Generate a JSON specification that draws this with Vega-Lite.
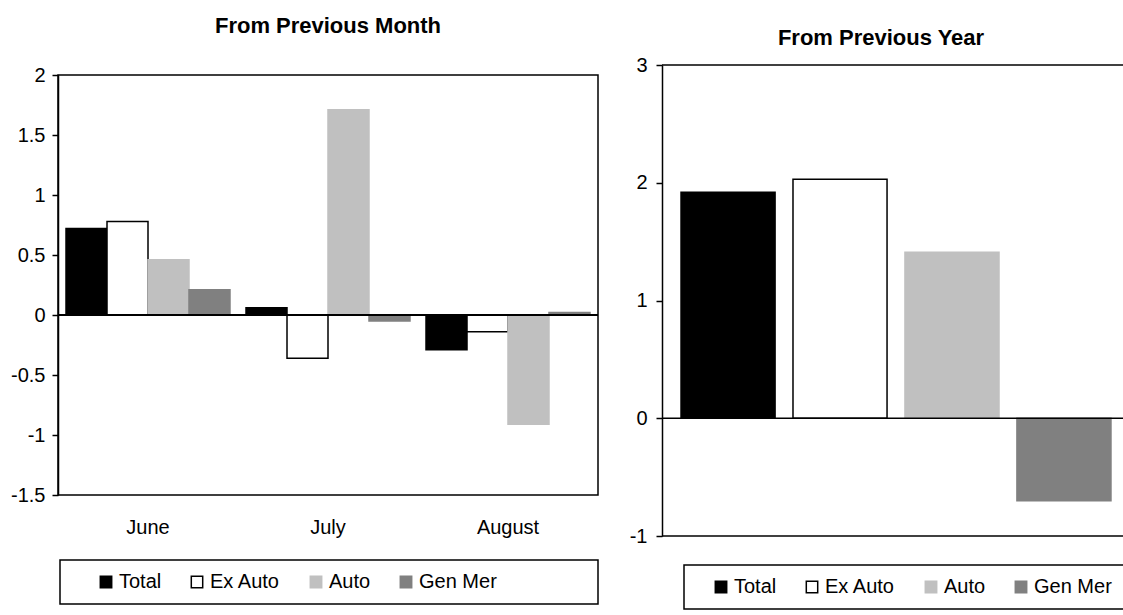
{
  "$schema": "https://vega.github.io/schema/vega-lite/v6.json",
  "background": "white",
  "padding": {"left": 9, "top": 14, "right": 0, "bottom": 0},
  "spacing": 29,
  "datasets": {
    "monthly": [
      {"month": "June", "series": "Total", "value": 0.72},
      {"month": "June", "series": "Ex Auto", "value": 0.78},
      {"month": "June", "series": "Auto", "value": 0.46},
      {"month": "June", "series": "Gen Mer", "value": 0.21},
      {"month": "July", "series": "Total", "value": 0.06},
      {"month": "July", "series": "Ex Auto", "value": -0.36},
      {"month": "July", "series": "Auto", "value": 1.71},
      {"month": "July", "series": "Gen Mer", "value": -0.05},
      {"month": "August", "series": "Total", "value": -0.29},
      {"month": "August", "series": "Ex Auto", "value": -0.14},
      {"month": "August", "series": "Auto", "value": -0.91},
      {"month": "August", "series": "Gen Mer", "value": 0.02}
    ],
    "yearly": [
      {"series": "Total", "value": 1.92},
      {"series": "Ex Auto", "value": 2.03},
      {"series": "Auto", "value": 1.41},
      {"series": "Gen Mer", "value": -0.70}
    ],
    "yearlyLines": [
      {"v": 3},
      {"v": 0},
      {"v": -1}
    ]
  },
  "hconcat": [
    {
      "width": 540,
      "height": 420,
      "title": {"text": "From Previous Month", "offset": 27},
      "data": {"name": "monthly"},
      "layer": [
        {
          "mark": {"type": "bar", "strokeWidth": 1.5},
          "encoding": {
            "x": {"field": "month", "type": "nominal", "sort": ["June", "July", "August"],
                  "scale": {"paddingInner": 0.089, "paddingOuter": 0.0445},
                  "axis": {"title": null, "ticks": false, "domain": false, "labelPadding": 22, "labelAngle": 0}},
            "xOffset": {"field": "series", "type": "nominal", "sort": ["Total", "Ex Auto", "Auto", "Gen Mer"],
                        "scale": {"paddingInner": 0, "paddingOuter": 0}},
            "y": {"field": "value", "type": "quantitative", "stack": null,
                  "scale": {"domain": [-1.5, 2], "nice": false, "zero": false},
                  "axis": {"title": null, "values": [-1.5, -1, -0.5, 0, 0.5, 1, 1.5, 2], "labelExpr": "'' + datum.value",
                           "tickSize": 6, "labelPadding": 7}},
            "color": {"field": "series", "type": "nominal", "sort": ["Total", "Ex Auto", "Auto", "Gen Mer"],
                      "scale": {"domain": ["Total", "Ex Auto", "Auto", "Gen Mer"], "range": ["#000000", "#ffffff", "#c0c0c0", "#808080"]},
                      "legend": {"title": null, "orient": "none", "legendX": 2, "legendY": 485, "symbolOffset": 24, "columnPadding": 1,
                                 "labelExpr": "datum.label == 'Gen Mer' ? 'Gen Mer\u00a0\u00a0\u00a0\u00a0\u00a0\u00a0\u00a0\u00a0\u00a0\u00a0\u00a0\u00a0\u00a0\u00a0\u00a0\u00a0\u200b' : datum.label"}},
            "stroke": {"field": "series", "type": "nominal", "sort": ["Total", "Ex Auto", "Auto", "Gen Mer"],
                      "scale": {"domain": ["Total", "Ex Auto", "Auto", "Gen Mer"], "range": ["#000000", "#000000", "#c0c0c0", "#808080"]},
                      "legend": {"title": null, "orient": "none", "legendX": 2, "legendY": 485, "symbolOffset": 24, "columnPadding": 1,
                                 "labelExpr": "datum.label == 'Gen Mer' ? 'Gen Mer\u00a0\u00a0\u00a0\u00a0\u00a0\u00a0\u00a0\u00a0\u00a0\u00a0\u00a0\u00a0\u00a0\u00a0\u00a0\u00a0\u200b' : datum.label"}}
          }
        },
        {
          "mark": {"type": "rule", "color": "black", "strokeWidth": 1.5},
          "encoding": {"y": {"datum": 0}}
        }
      ]
    },
    {
      "width": 468,
      "height": 461,
      "view": {"stroke": null},
      "title": {"text": "From Previous Year", "offset": 5, "dx": -15},
      "layer": [
        {
          "data": {"name": "yearly"},
          "mark": {"type": "bar", "strokeWidth": 1.5},
          "encoding": {
            "x": {"field": "series", "type": "nominal", "sort": ["Total", "Ex Auto", "Auto", "Gen Mer"],
                  "scale": {"paddingInner": 0.16, "paddingOuter": 0.17}, "axis": null},
            "y": {"field": "value", "type": "quantitative", "stack": null,
                  "scale": {"domain": [-1, 3], "nice": false, "zero": false, "range": [461, -10]},
                  "axis": {"title": null, "values": [-1, 0, 1, 2, 3], "labelExpr": "'' + datum.value",
                           "tickSize": 6, "labelPadding": 9}},
            "color": {"field": "series", "type": "nominal", "sort": ["Total", "Ex Auto", "Auto", "Gen Mer"],
                      "scale": {"domain": ["Total", "Ex Auto", "Auto", "Gen Mer"], "range": ["#000000", "#ffffff", "#c0c0c0", "#808080"]},
                      "legend": {"title": null, "orient": "none", "legendX": 22, "legendY": 490, "symbolOffset": 15, "columnPadding": 10,
                                 "labelExpr": "datum.label == 'Gen Mer' ? 'Gen Mer\u00a0\u00a0\u200b' : datum.label"}},
            "stroke": {"field": "series", "type": "nominal", "sort": ["Total", "Ex Auto", "Auto", "Gen Mer"],
                      "scale": {"domain": ["Total", "Ex Auto", "Auto", "Gen Mer"], "range": ["#000000", "#000000", "#c0c0c0", "#808080"]},
                      "legend": {"title": null, "orient": "none", "legendX": 22, "legendY": 490, "symbolOffset": 15, "columnPadding": 10,
                                 "labelExpr": "datum.label == 'Gen Mer' ? 'Gen Mer\u00a0\u00a0\u200b' : datum.label"}}
          }
        },
        {
          "data": {"name": "yearlyLines"},
          "mark": {"type": "rule", "color": "black", "strokeWidth": 1.5},
          "encoding": {"y": {"field": "v", "type": "quantitative"}}
        }
      ]
    }
  ],
  "resolve": {"scale": {"color": "independent", "stroke": "independent"}, "legend": {"color": "independent", "stroke": "independent"}},
  "config": {
    "font": "Liberation Sans",
    "view": {"stroke": "black", "strokeWidth": 1.5},
    "title": {"font": "Liberation Sans", "fontSize": 22, "fontWeight": "bold", "color": "black", "anchor": "middle"},
    "axis": {"labelFont": "Liberation Sans", "labelFontSize": 20, "labelColor": "black",
             "tickColor": "black", "tickWidth": 1.5, "domainColor": "black", "domainWidth": 1.5, "grid": false},
    "legend": {
      "direction": "horizontal",
      "symbolType": "square", "symbolSize": 130, "symbolStrokeWidth": 1.5,
      "labelFont": "Liberation Sans", "labelFontSize": 20, "labelColor": "black", "labelOffset": 3,
      "strokeColor": "black", "strokeWidth": 1.5, "padding": 12, "labelLimit": 300,
      "symbolOpacity": 1
    }
  }
}
